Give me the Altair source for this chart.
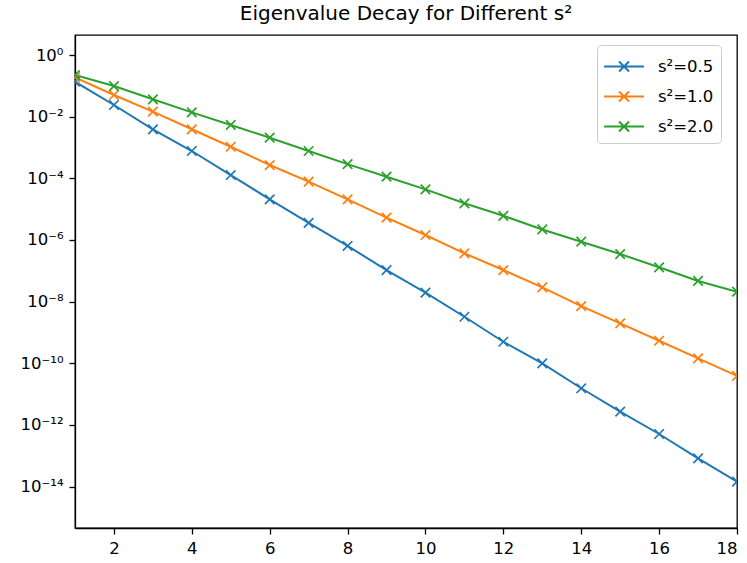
import altair as alt
import pandas as pd

# ---- data ----
n_index = list(range(1, 19))
series_names = ["s²=0.5", "s²=1.0", "s²=2.0"]
vals_s05 = [0.136, 0.0239, 3.9e-3, 7.7e-4, 1.28e-4, 2.08e-5, 3.6e-6, 6.4e-7, 1.06e-7,
            1.95e-8, 3.24e-9, 5.0e-10, 1.0e-10, 1.55e-11, 2.7e-12, 5.1e-13, 8.3e-14, 1.45e-14]
vals_s10 = [0.189, 0.0505, 0.0145, 3.9e-3, 1.06e-3, 2.7e-4, 7.8e-5, 2.08e-5, 5.3e-6,
            1.45e-6, 3.7e-7, 1.06e-7, 2.9e-8, 7.2e-9, 1.98e-9, 5.4e-10, 1.45e-10, 3.9e-11]
vals_s20 = [0.224, 0.0986, 0.0366, 0.0138, 5.4e-3, 2.08e-3, 7.7e-4, 2.9e-4, 1.13e-4,
            4.4e-5, 1.55e-5, 6.1e-6, 2.2e-6, 8.8e-7, 3.5e-7, 1.3e-7, 4.7e-8, 2.1e-8]
colors = ["#1f77b4", "#ff7f0e", "#2ca02c"]

x_ticks = [2, 4, 6, 8, 10, 12, 14, 16, 18]
y_ticks = [1e0, 1e-2, 1e-4, 1e-6, 1e-8, 1e-10, 1e-12, 1e-14]
y_tick_labels = ["10⁰", "10⁻²", "10⁻⁴", "10⁻⁶", "10⁻⁸", "10⁻¹⁰", "10⁻¹²", "10⁻¹⁴"]
title_text = "Eigenvalue Decay for Different s²"

rows = []
for name, vals in zip(series_names, [vals_s05, vals_s10, vals_s20]):
    for k, v in zip(n_index, vals):
        rows.append({"k": k, "value": v, "series": name})
df = pd.DataFrame(rows)

# label expression for log ticks
expr = "''"
for v, lab in reversed(list(zip(y_ticks, y_tick_labels))):
    expr = f"datum.value >= {v * 0.5!r} ? '{lab}' : ({expr})"

FONT = "DejaVu Sans"
FS = 16.5

axis_common = dict(
    title=None, grid=False,
    labelFont=FONT, labelFontSize=FS, labelColor="#000000",
    domainColor="#000000", domainWidth=1.3,
    tickColor="#000000", tickWidth=1.3, tickSize=6, labelPadding=6,
)

x_enc = alt.X("k:Q", scale=alt.Scale(domain=[1, 18], nice=False, zero=False),
              axis=alt.Axis(values=x_ticks, **axis_common))
y_enc = alt.Y("value:Q", scale=alt.Scale(type="log", domain=[4.55e-16, 4.46], nice=False),
              axis=alt.Axis(values=y_ticks, labelExpr=expr, **axis_common))
color_enc = alt.Color(
    "series:N",
    scale=alt.Scale(domain=series_names, range=colors),
    legend=alt.Legend(
        title=None,
        orient="none",
        legendX=522,
        legendY=10,
        symbolType="M-1.07,0L1.89,0M0.04,-0.37L0.78,0.37M0.04,0.37L0.78,-0.37",
        symbolSize=729,
        symbolStrokeWidth=2,
        symbolFillColor="transparent",
        labelFont=FONT,
        labelFontSize=FS,
        labelColor="#000000",
        labelOffset=25,
        rowPadding=6,
        padding=7,
        strokeColor="#cccccc",
        fillColor="#ffffff",
        cornerRadius=4,
    ),
)

lines = alt.Chart(df).mark_line(strokeWidth=2, clip=True).encode(
    x=x_enc, y=y_enc, color=color_enc, detail="series:N"
)
points = alt.Chart(df).mark_point(
    shape="M-1,-1L1,1M-1,1L1,-1", filled=False, size=90, strokeWidth=1.7, opacity=1, clip=True
).encode(x=x_enc, y=y_enc, color=color_enc)

chart = (
    alt.layer(lines, points)
    .properties(
        width=662,
        height=493,
        title=alt.TitleParams(title_text, font=FONT, fontSize=20, fontWeight="normal",
                              color="#000000", offset=11, anchor="middle"),
        autosize=alt.AutoSizeParams(type="none"),
        padding={"left": 75, "top": 35, "right": 10, "bottom": 35},
        background="#ffffff",
    )
    .configure_view(stroke="#000000", strokeWidth=1.3)
)

chart.save("out.html", embed_options={"renderer": "svg", "actions": False})
